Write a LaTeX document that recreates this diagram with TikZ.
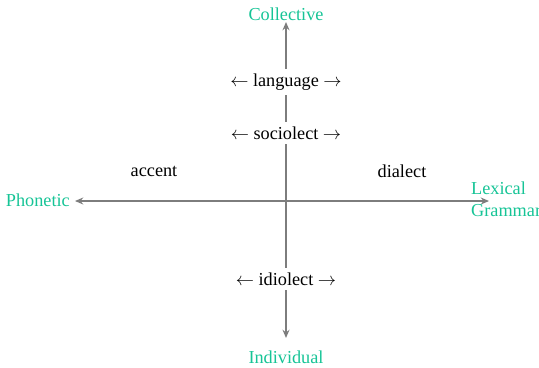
\documentclass[tikz,border=0pt]{standalone}
\usepackage{fontspec}
\setmainfont{Liberation Serif}
\usetikzlibrary{arrows.meta}
\definecolor{poleclr}{RGB}{22,196,150}
\definecolor{axisclr}{RGB}{125,125,125}
\tikzset{
  axis/.style={draw=axisclr, line width=0.95pt, -{Stealth[length=4.5pt,width=3.8pt]}},
  pole/.style={text=poleclr, font=\fontsize{10}{12}\selectfont, inner sep=1pt},
  variety/.style={fill=white, font=\fontsize{10}{12}\selectfont, inner sep=2.5pt},
  region/.style={font=\fontsize{10}{12}\selectfont}
}
\begin{document}
\begin{tikzpicture}[x=0.548pt,y=-0.548pt]
  \useasboundingbox (0,0) rectangle (539,367);
  \clip (0,0) rectangle (539,367);
  % axis ends
  \coordinate (o) at (286,201);
  \coordinate (top) at (286,22);
  \coordinate (bottom) at (286,338);
  \coordinate (left) at (75,201);
  \coordinate (right) at (489,201);
  % axes
  \draw[axis] (o) -- (top);
  \draw[axis] (o) -- (bottom);
  \draw[axis] (o) -- (left);
  \draw[axis] (o) -- (right);
  % poles
  \node[pole] (collective) at (286,14) {Collective};
  \node[pole] (individual) at (286,357) {Individual};
  \node[pole, anchor=east] (phonetic) at (72,200) {Phonetic};
  \node[pole, anchor=west, align=left] (lexical) at (469,199) {Lexical\\Grammar};
  % varieties along the vertical axis
  \node[variety] (language) at (286,82) {$\leftarrow$ language $\rightarrow$};
  \node[variety] (sociolect) at (286,133) {$\leftarrow$ sociolect $\rightarrow$};
  \node[variety] (idiolect) at (286,279) {$\leftarrow$ idiolect $\rightarrow$};
  % quadrant labels
  \node[region] (accent) at (154,171) {accent};
  \node[region] (dialect) at (402,171) {dialect};
\end{tikzpicture}
\end{document}
